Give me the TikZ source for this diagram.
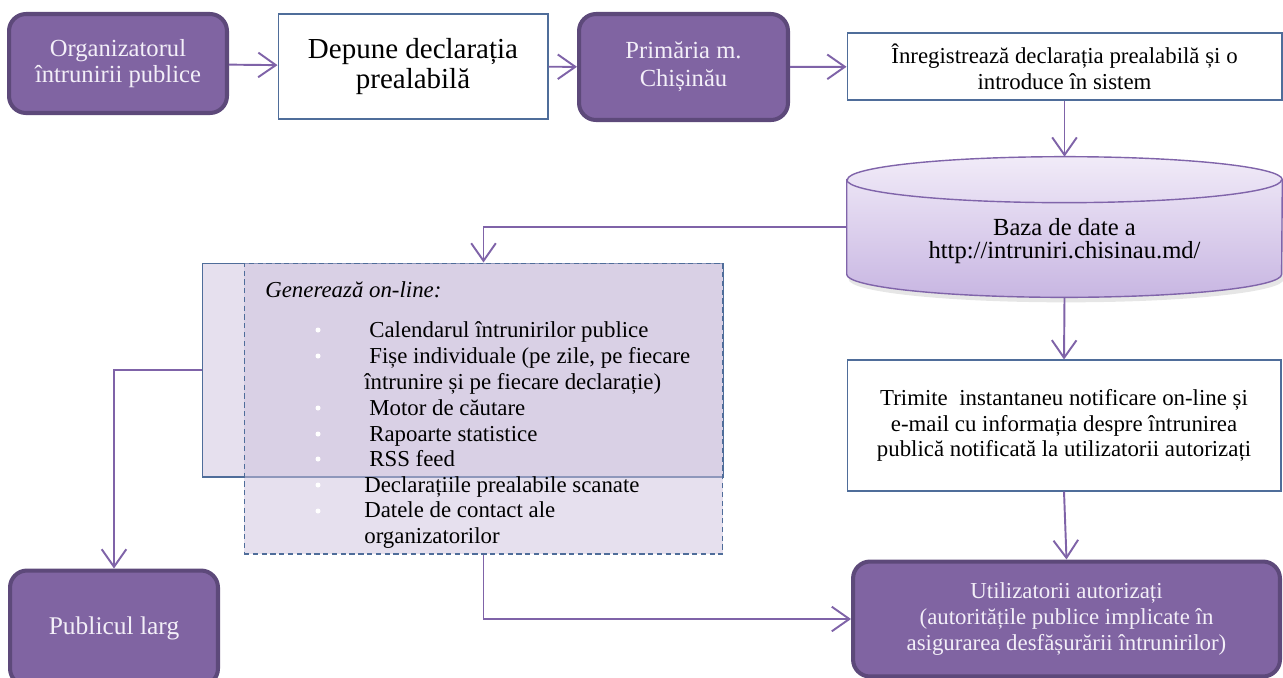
\documentclass[tikz,border=0pt]{standalone}
\usepackage{fontspec}
\setmainfont{Liberation Serif}
\usetikzlibrary{arrows.meta,calc,shadows}

\definecolor{purplefill}{RGB}{128,100,162}
\definecolor{purpleborder}{RGB}{93,73,122}
\definecolor{lighttext}{RGB}{243,239,248}
\definecolor{arrowcol}{RGB}{127,99,168}
\definecolor{boxborder}{RGB}{79,109,154}
\definecolor{genfill}{RGB}{205,193,221}
\definecolor{dbtop}{RGB}{241,235,248}
\definecolor{dbbottom}{RGB}{200,182,226}
\definecolor{dbborder}{RGB}{128,100,170}

\tikzset{
  purplebox/.style={draw=purpleborder, line width=2.3pt, fill=purplefill, rounded corners=0.34cm,
    text=lighttext, align=center, inner sep=0pt},
  plainbox/.style={draw=boxborder, line width=0.6pt, fill=white, align=center, inner sep=0pt},
  genbox/.style={draw=boxborder, line width=0.6pt, fill=genfill, fill opacity=0.5, inner sep=0pt},
  gentext/.style={inner sep=0pt, font=\fontsize{13}{14.7}\selectfont},
  flow/.style={draw=arrowcol, line width=1.1pt, -{Straight Barb[length=10pt,width=14pt]}},
}

\begin{document}
\begin{tikzpicture}[x=0.02cm,y=-0.02cm]
\useasboundingbox (0,0) rectangle (1283,677);

% top row
\node[purplebox, minimum width=4.36cm, minimum height=1.98cm, font=\fontsize{14}{14.5}\selectfont]
  (org) at (118,63.5) {Organizatorul\\întrunirii publice};
\node[plainbox, minimum width=5.40cm, minimum height=2.10cm, font=\fontsize{16.5}{17}\selectfont]
  (dep) at (413,66.5) {Depune declarația\\prealabilă};
\node[purplebox, minimum width=4.18cm, minimum height=2.12cm, font=\fontsize{14}{16}\selectfont]
  (prim) at (683.5,67) {Primăria m.\\Chișinău};
\node[plainbox, minimum width=8.70cm, minimum height=1.34cm, font=\fontsize{13}{14.7}\selectfont]
  (inreg) at (1064.5,66.5) {Înregistrează declarația prealabilă și o\\introduce în sistem};

% database
\node[minimum width=8.70cm, minimum height=2.80cm, inner sep=0pt] (db) at (1064.5,227) {};
\path[draw=dbborder, line width=0.8pt, top color=dbtop, bottom color=dbbottom,
    drop shadow={opacity=0.2, shadow xshift=0.04cm, shadow yshift=-0.1cm}]
  ($(db.north west)+(0,23)$) -- ($(db.south west)+(0,-23)$)
  arc[start angle=180, end angle=360, x radius=4.35cm, y radius=0.46cm]
  -- ($(db.north east)+(0,23)$)
  arc[start angle=0, end angle=180, x radius=4.35cm, y radius=0.46cm] -- cycle;
\draw[dbborder, line width=0.8pt] ($(db.north west)+(0,23)$)
  arc[start angle=180, end angle=360, x radius=4.35cm, y radius=0.46cm];
\node[align=center, inner sep=0pt, font=\fontsize{14}{13.5}\selectfont]
  (dbtext) at (1064.5,241) {Baza de date a\\http://intruniri.chisinau.md/};

% generated content
\node[genbox, minimum width=10.44cm, minimum height=4.28cm] (gen) at (463,370) {};
\node[genbox, dash pattern=on 3pt off 2pt, minimum width=9.58cm, minimum height=5.82cm]
  (gendash) at (483.5,408.5) {};
\node[gentext, font=\fontsize{13}{14.7}\selectfont\itshape, anchor=base west]
  (genhead) at (265,297) {Generează on-line:};
\foreach \i/\x/\y/\t in {1/369/337/{Calendarul întrunirilor publice},
    2/369/363/{Fișe individuale (pe zile, pe fiecare},
    3/364/389/{întrunire și pe fiecare declarație)},
    4/369/415/{Motor de căutare}, 5/369/441/{Rapoarte statistice}, 6/369/466/{RSS feed},
    7/364/492/{Declarațiile prealabile scanate}, 8/364/517/{Datele de contact ale},
    9/364/543/{organizatorilor}}
  \node[gentext, anchor=base west] (item\i) at (\x,\y) {\t};
\foreach \y in {330,356,408,434,459,485,511}
  \fill[white] (318,\y) circle (0.05cm);

% bottom row
\node[purplebox, minimum width=4.16cm, minimum height=2.30cm, font=\fontsize{14.5}{15}\selectfont]
  (pub) at (114,628) {Publicul larg};
\node[plainbox, minimum width=8.68cm, minimum height=2.62cm, font=\fontsize{13}{14.7}\selectfont]
  (trim) at (1064,425.5) {Trimite\ \ instantaneu notificare on-line și\\e-mail cu informația despre întrunirea\\publică notificată la utilizatorii autorizați};
\node[purplebox, minimum width=8.54cm, minimum height=2.30cm, font=\fontsize{13}{14.7}\selectfont]
  (util) at (1066.5,619) {Utilizatorii autorizați\\(autoritățile publice implicate în\\asigurarea desfășurării întrunirilor)};

% connectors
\draw[flow] (org) -- (dep);
\draw[flow] (dep) -- (prim);
\draw[flow] (prim) -- (inreg);
\draw[flow] (inreg) -- (db);
\draw[flow] (db.west) -| (gendash.north);
\draw[flow] (gen.west) -| (pub.north);
\draw[flow] (db.south) -- (trim.north);
\draw[flow] (trim.south) -- (util.north);
\draw[flow] (gendash.south) |- (util.west);

\end{tikzpicture}
\end{document}
